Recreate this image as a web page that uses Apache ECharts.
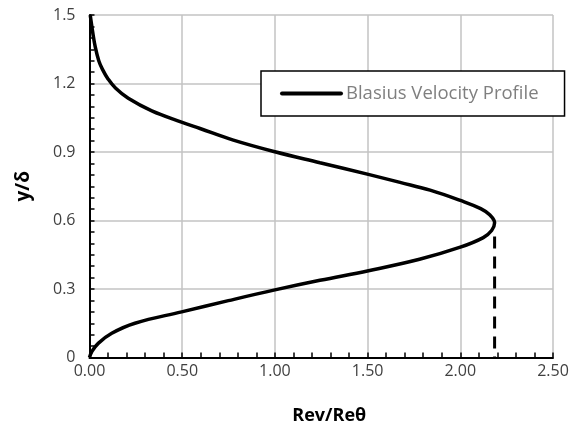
<!DOCTYPE html>
<html>
<head>
<meta charset="utf-8">
<script src="https://cdn.jsdelivr.net/npm/echarts@6/dist/echarts.min.js"></script>
<style>
  html, body { margin: 0; padding: 0; background: #fff; }
  #chart { width: 577px; height: 425px; }
</style>
</head>
<body>
<div id="chart"></div>
<script>
// Blasius velocity profile: Rev/Reθ against y/δ
const profileY = [0, 0.025, 0.062, 0.106, 0.15, 0.2, 0.249, 0.296, 0.338, 0.38, 0.43, 0.483, 0.525, 0.556, 0.59, 0.624, 0.652, 0.688, 0.733, 0.767, 0.802, 0.853, 0.901, 0.952, 1.003, 1.03, 1.08, 1.135, 1.18, 1.22, 1.262, 1.3, 1.36, 1.426, 1.47, 1.5];
const profileX = [0, 0.012, 0.047, 0.12, 0.245, 0.497, 0.749, 1.0, 1.243, 1.505, 1.78, 2.0, 2.124, 2.169, 2.185, 2.16, 2.11, 2.0, 1.837, 1.675, 1.504, 1.243, 1.0, 0.776, 0.596, 0.5, 0.336, 0.209, 0.14, 0.1, 0.07, 0.05, 0.031, 0.017, 0.009, 0.004];

// dashed marker dropped from the peak down to the axis
const peakX = 2.185;
const dropY = [0.53, 0];

const xTicks = [0, 0.5, 1.0, 1.5, 2.0, 2.5];
const yTicks = [0, 0.3, 0.6, 0.9, 1.2, 1.5];

const seriesName = 'Blasius Velocity Profile';
const fontFamily = '"Open Sans", "Liberation Sans", sans-serif';

const chart = echarts.init(document.getElementById('chart'), null, { renderer: 'canvas' });

const axisCommon = {
  axisLine: { show: true, onZero: false, lineStyle: { color: '#000', width: 2 } },
  axisTick: { show: true, inside: true, length: 5, lineStyle: { color: '#000', width: 1.5 } },
  minorTick: { show: true, length: 5, lineStyle: { color: '#000', width: 1.5 } },
  splitLine: { show: true, lineStyle: { color: '#c3c3c3', width: 1.5 } },
  minorSplitLine: { show: false }
};

chart.setOption({
  animation: false,
  backgroundColor: '#fff',
  grid: { left: 89.5, right: 24, top: 15, bottom: 67.5, containLabel: false, outerBoundsMode: 'none' },
  xAxis: Object.assign({}, axisCommon, {
    type: 'value',
    min: xTicks[0],
    max: xTicks[xTicks.length - 1],
    interval: xTicks[1] - xTicks[0],
    minorTick: Object.assign({}, axisCommon.minorTick, { splitNumber: 5 }),
    name: 'Rev/Reθ',
    nameLocation: 'middle',
    nameGap: 49,
    nameTextStyle: { color: '#000', fontWeight: 'bold', fontSize: 18, fontFamily: fontFamily, padding: [0, 0, 0, 16] },
    axisLabel: {
      color: '#404040', fontSize: 16, fontFamily: fontFamily, margin: 6,
      formatter: v => v.toFixed(2)
    }
  }),
  yAxis: Object.assign({}, axisCommon, {
    type: 'value',
    min: yTicks[0],
    max: yTicks[yTicks.length - 1],
    interval: yTicks[1] - yTicks[0],
    minorTick: Object.assign({}, axisCommon.minorTick, { splitNumber: 6 }),
    name: 'y/δ',
    nameLocation: 'middle',
    nameGap: 56,
    nameTextStyle: { color: '#000', fontWeight: 'bold', fontSize: 19, fontFamily: fontFamily },
    axisLabel: {
      color: '#404040', fontSize: 16, fontFamily: fontFamily, margin: 14,
      formatter: v => (v === 0 ? '0' : v.toFixed(1))
    }
  }),
  legend: {
    data: [seriesName],
    left: 261,
    top: 71,
    padding: [13, 26, 13, 19],
    itemWidth: 59,
    itemHeight: 18,
    itemGap: 6,
    borderColor: '#000',
    borderWidth: 1.5,
    backgroundColor: '#fff',
    itemStyle: { opacity: 0 },
    lineStyle: { color: '#000', width: 4, cap: 'round' },
    textStyle: { color: '#7f7f7f', fontSize: 18.5, fontFamily: fontFamily }
  },
  series: [
    {
      name: seriesName,
      type: 'line',
      data: profileY.map((y, i) => [profileX[i], y]),
      smooth: 0.4,
      symbol: 'none',
      itemStyle: { color: '#000' },
      lineStyle: { color: '#000', width: 3.5 },
      z: 3
    },
    {
      name: 'peak',
      type: 'line',
      data: dropY.map(y => [peakX, y]),
      symbol: 'none',
      itemStyle: { color: '#000' },
      lineStyle: { color: '#000', width: 3, type: [12, 8] },
      z: 2
    }
  ]
});
</script>
</body>
</html>
